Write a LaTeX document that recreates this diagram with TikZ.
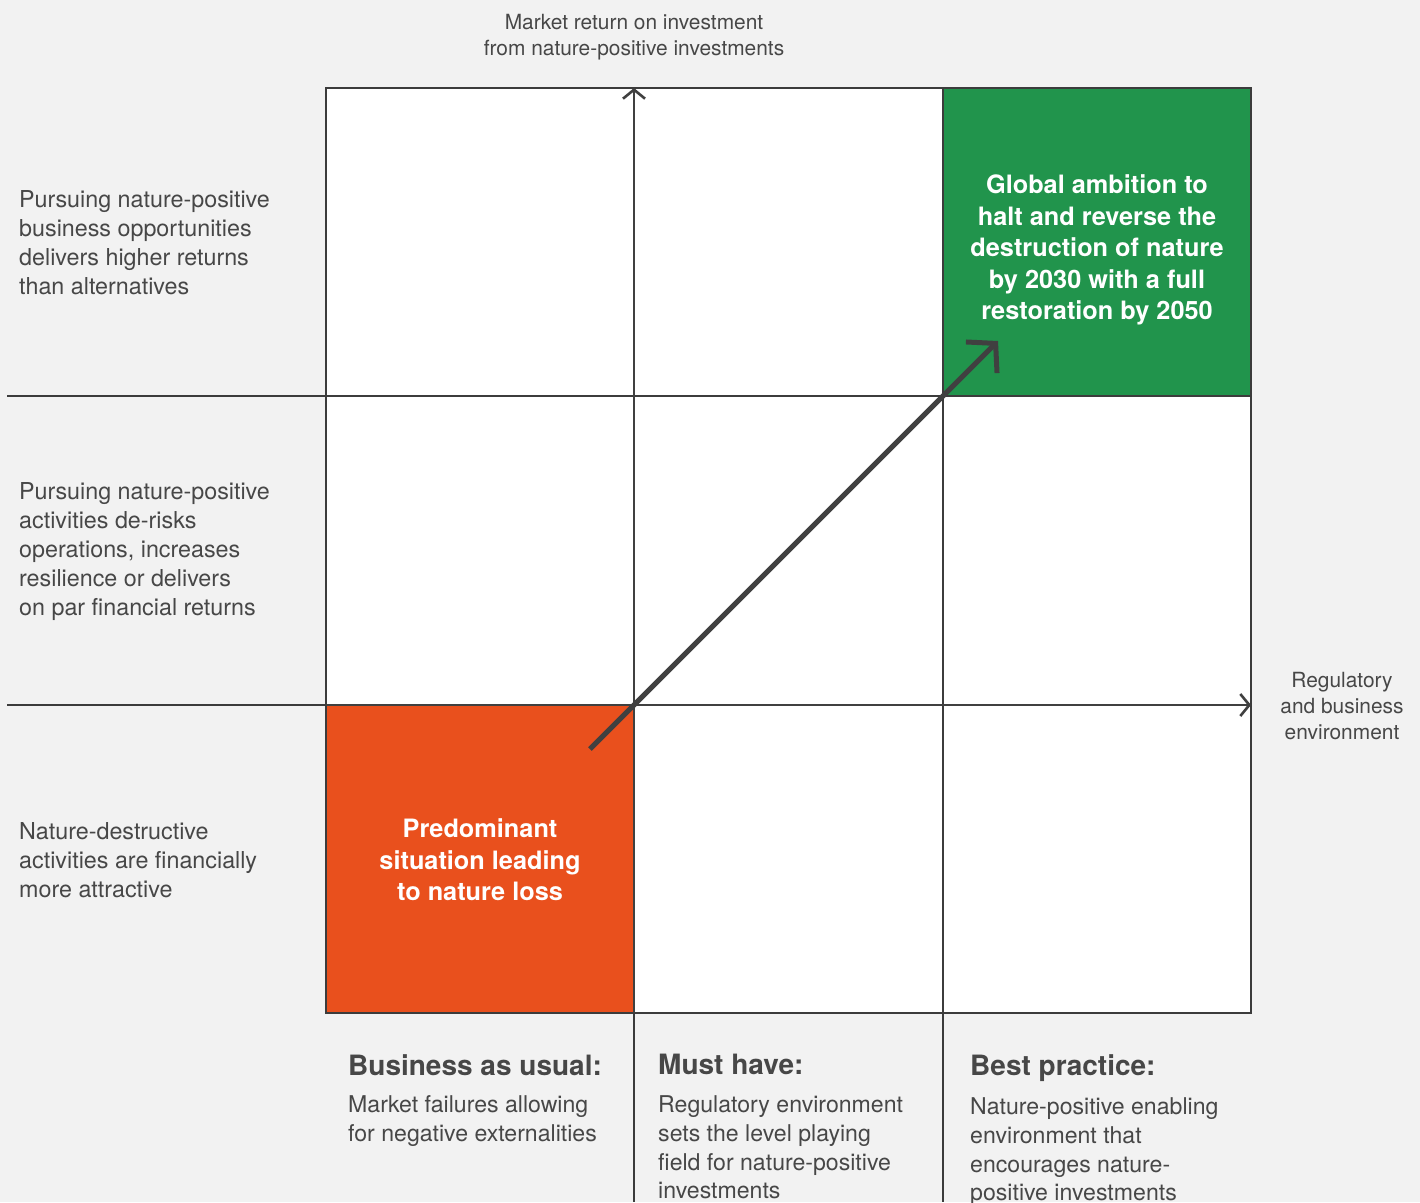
\documentclass[tikz,border=0pt]{standalone}
\usepackage{fontspec}
\setmainfont{TeX Gyre Heros}
\usetikzlibrary{arrows.meta}
\definecolor{bgcol}{HTML}{F2F2F2}
\definecolor{gridcol}{HTML}{3C3C3C}
\definecolor{axiscol}{HTML}{404040}
\definecolor{txtcol}{HTML}{474747}
\definecolor{greencol}{HTML}{21944C}
\definecolor{orangecol}{HTML}{E9501D}
\begin{document}
\begin{tikzpicture}[x=1pt,y=-1pt,
  gridline/.style={draw=gridcol,line width=1.1pt},
  axisline/.style={draw=axiscol,line width=2.6pt,-{Straight Barb[length=9pt,width=22pt]}},
  bigarrow/.style={draw=axiscol,line width=5pt,-{Straight Barb[length=20pt,width=44pt]}},
  sidelabel/.style={anchor=north west,inner sep=0pt,align=left,text=txtcol,font=\fontsize{23.3}{29}\selectfont},
  axislabel/.style={anchor=north,inner sep=0pt,align=center,text=txtcol,font=\fontsize{20.9}{26}\selectfont},
  boxlabel/.style={anchor=north,inner sep=0pt,align=center,text=white,font=\fontsize{25.3}{31.5}\selectfont\bfseries},
  headlabel/.style={anchor=north west,inner sep=0pt,align=left,text=txtcol,font=\fontsize{28}{34}\selectfont\bfseries},
  bodylabel/.style={anchor=north west,inner sep=0pt,align=left,text=txtcol,font=\fontsize{23.1}{28.7}\selectfont}]
% canvas
\fill[bgcol] (0,0) rectangle (1420,1202);
\useasboundingbox (0,0) rectangle (1420,1202);
% 3x3 matrix
\fill[white] (326,88) rectangle (1251,1013);
\fill[greencol] (943,88) rectangle (1251,396);
\fill[orangecol] (326,705) rectangle (634,1013);
\coordinate (tl) at (326,88);
\coordinate (br) at (1251,1013);
\draw[gridline] (tl) rectangle (br);
\coordinate (r1l) at (7,396);   \coordinate (r1r) at (1251,396);
\coordinate (r2l) at (7,705);   \coordinate (r2m) at (326,705);
\coordinate (c2t) at (943,88);  \coordinate (c2b) at (943,1202);
\coordinate (c1t) at (634,1013);\coordinate (c1b) at (634,1202);
\draw[gridline] (r1l) -- (r1r);
\draw[gridline] (r2l) -- (r2m);
\draw[gridline] (c2t) -- (c2b);
\draw[gridline] (c1t) -- (c1b);
% axes
\coordinate (ybot) at (634,1013);
\coordinate (ytop) at (634,88);
\coordinate (xleft) at (326,705);
\coordinate (xright) at (1251,705);
\draw[axisline] (ybot) -- (ytop);
\draw[axisline] (xleft) -- (xright);
% transition arrow
\coordinate (astart) at (590,749);
\coordinate (aend) at (998,341);
\draw[bigarrow] (astart) -- (aend);
% axis labels
\node[axislabel] (ylab) at (634,14.5) {Market return on investment\\from nature-positive investments};
\node[axislabel] (xlab) at (1342,672.5) {Regulatory\\and business\\environment};
% row labels
\node[sidelabel] (row1) at (19,190.6) {Pursuing nature-positive\\business opportunities\\delivers higher returns\\than alternatives};
\node[sidelabel] (row2) at (19,482.6) {Pursuing nature-positive\\activities de-risks\\operations, increases\\resilience or delivers\\on par financial returns};
\node[sidelabel] (row3) at (19,822.6) {Nature-destructive\\activities are financially\\more attractive};
% box texts
\node[boxlabel] (goal) at (1097,174.7) {Global ambition to\\halt and reverse the\\destruction of nature\\by 2030 with a full\\restoration by 2050};
\node[boxlabel] (now) at (480,818.7) {Predominant\\situation leading\\to nature loss};
% column labels
\node[headlabel] (h1) at (348,1054) {Business as usual:};
\node[bodylabel] (b1) at (348,1095.7) {Market failures allowing\\for negative externalities};
\node[headlabel] (h2) at (658,1054) {Must have:};
\node[bodylabel] (b2) at (658,1095.7) {Regulatory environment\\sets the level playing\\field for nature-positive\\investments};
\node[headlabel] (h3) at (970,1054) {Best practice:};
\node[bodylabel] (b3) at (970,1097.7) {Nature-positive enabling\\environment that\\encourages nature-\\positive investments};
\end{tikzpicture}
\end{document}
